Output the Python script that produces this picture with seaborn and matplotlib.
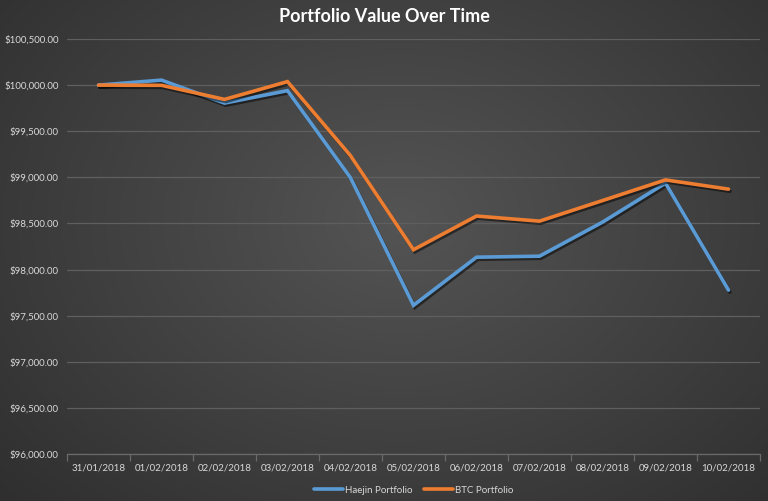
import numpy as np
import pandas as pd
import matplotlib
matplotlib.use("Agg")
import matplotlib.pyplot as plt
import matplotlib.patheffects as pe
from matplotlib.ticker import FuncFormatter, FixedLocator
import seaborn as sns

dates = ["31/01/2018", "01/02/2018", "02/02/2018", "03/02/2018", "04/02/2018",
         "05/02/2018", "06/02/2018", "07/02/2018", "08/02/2018", "09/02/2018",
         "10/02/2018"]
haejin = [100000, 100054, 99805, 99940, 98995, 97612, 98134, 98145, 98514, 98937, 97777]
btc = [100000, 99998, 99845, 100038, 99235, 98215, 98580, 98525, 98748, 98972, 98872]
series_names = ["Haejin Portfolio", "BTC Portfolio"]
colors = ["#5B9BD5", "#ED7D31"]

df = pd.DataFrame({
    "Date": dates * 2,
    "Value": haejin + btc,
    "Series": [series_names[0]] * len(dates) + [series_names[1]] * len(dates),
})

sns.set_theme(style="dark")
plt.rcParams["font.family"] = ["Lato", "DejaVu Sans"]

fig = plt.figure(figsize=(7.68, 5.01), dpi=100)

# radial gradient background
bg = fig.add_axes([0, 0, 1, 1], zorder=-10)
yy, xx = np.mgrid[0:501, 0:768]
r = np.sqrt(((xx - 400) / 560.0) ** 2 + ((yy - 220) / 420.0) ** 2)
val = np.clip(0.33 - 0.15 * r, 0.17, 0.34)
img = np.dstack([val, val, val])
bg.imshow(img, aspect="auto", extent=[0, 1, 0, 1])
bg.axis("off")

ax = fig.add_axes([67 / 768, 1 - 454 / 501, (760 - 67) / 768, (454 - 39) / 501])
ax.patch.set_alpha(0)

sns.lineplot(data=df, x="Date", y="Value", hue="Series", palette=colors,
             linewidth=2.6, sort=False, ax=ax, legend=True)
for line in ax.lines:
    line.set_path_effects([pe.SimpleLineShadow(offset=(1, -1.5), alpha=0.5, shadow_color="black"),
                           pe.Normal()])
    line.set_solid_joinstyle("miter")

ax.set_ylim(96000, 100500)
ax.set_xlim(-0.5, len(dates) - 0.5)
ax.set_yticks(np.arange(96000, 100501, 500))
ax.yaxis.set_major_formatter(FuncFormatter(lambda v, p: f"${v:,.2f}"))
ax.grid(axis="y", color="#5f5f5f", linewidth=0.9)
ax.grid(axis="x", visible=False)
ax.set_axisbelow(True)
ax.set_xlabel("")
ax.set_ylabel("")
for s in ["top", "right", "left"]:
    ax.spines[s].set_visible(False)
ax.spines["bottom"].set_color("#6a6a6a")
ax.spines["bottom"].set_linewidth(0.9)

ax.tick_params(axis="y", colors="#d9d9d9", labelsize=7, length=0, pad=6)
ax.tick_params(axis="x", which="major", colors="#d9d9d9", labelsize=7, length=0, pad=7)
ax.xaxis.set_minor_locator(FixedLocator(np.arange(-0.5, len(dates), 1.0)))
ax.tick_params(axis="x", which="minor", length=5, color="#6a6a6a", width=0.9, bottom=True)

leg = ax.legend(loc="upper center", bbox_to_anchor=(0.5, -0.055), ncol=2, frameon=False,
                fontsize=7, handlelength=3.0, columnspacing=1.2, handletextpad=0.2)
for t in leg.get_texts():
    t.set_color("#d9d9d9")
for h in leg.get_lines():
    h.set_linewidth(2.6)
    h.set_path_effects([])

fig.text(0.5, 0.967, "Portfolio Value Over Time", ha="center", va="center",
         color="white", fontsize=13, fontweight="bold")

fig.savefig("out.png", dpi=100)
